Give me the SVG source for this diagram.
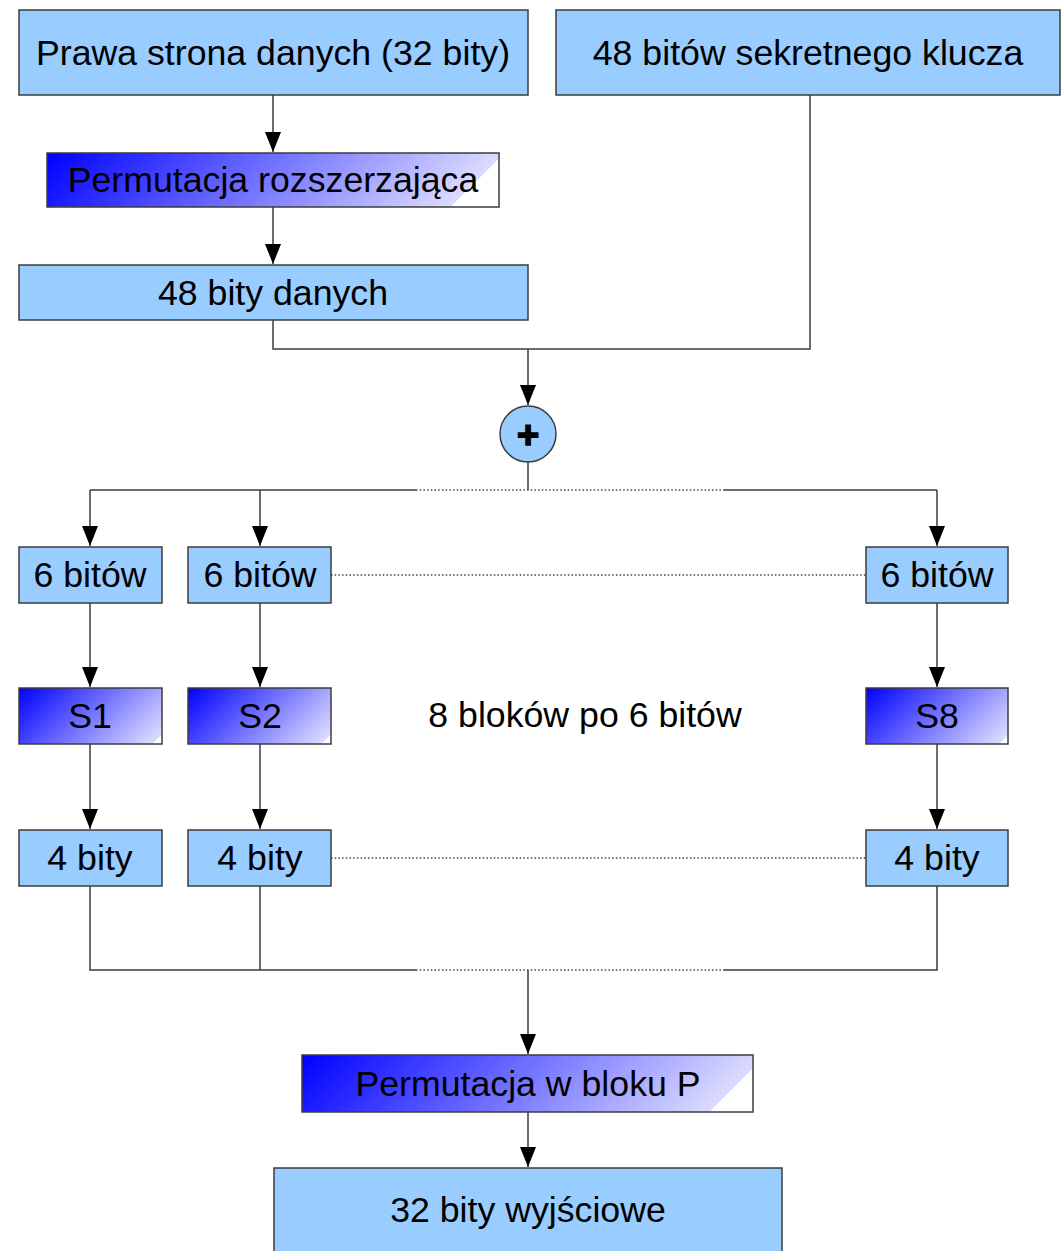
<svg xmlns="http://www.w3.org/2000/svg" width="1061" height="1251" viewBox="0 0 1061 1251">
  <style>
    .box { fill: #99ccff; stroke: #3c3c3c; stroke-width: 1.5; }
    .grad { stroke: #3c3c3c; stroke-width: 1.5; }
    .lbl { font-family: "Liberation Sans", Arial, sans-serif; font-size: 35.7px; fill: #000; text-anchor: middle; }
    .wire { fill: none; stroke: #3c3c3c; stroke-width: 1.5; }
    .arrow { fill: none; stroke: #3c3c3c; stroke-width: 1.5; marker-end: url(#head); }
    .dots { fill: none; stroke: #444; stroke-width: 1.3; stroke-dasharray: 1.5 2.2; }
  </style>
  <defs>
    <marker id="head" markerUnits="userSpaceOnUse" markerWidth="20" markerHeight="16" refX="20" refY="8" orient="auto">
      <path d="M0,0 L20,8 L0,16 z" fill="#000"/>
    </marker>
    <!-- diagonal blue-to-white fills, one per box size -->
    <linearGradient id="gPermE" gradientUnits="userSpaceOnUse" x1="47" y1="153" x2="300" y2="406">
      <stop offset="0" stop-color="#0000ff"/>
      <stop offset="0.905" stop-color="#dcdcff"/>
      <stop offset="0.905" stop-color="#ffffff"/>
      <stop offset="1" stop-color="#ffffff"/>
    </linearGradient>
    <linearGradient id="gS1" gradientUnits="userSpaceOnUse" x1="19" y1="688" x2="118" y2="787">
      <stop offset="0" stop-color="#0000ff"/>
      <stop offset="0.955" stop-color="#dcdcff"/>
      <stop offset="0.955" stop-color="#ffffff"/>
      <stop offset="1" stop-color="#ffffff"/>
    </linearGradient>
    <linearGradient id="gS2" href="#gS1" x1="188" y1="688" x2="287" y2="787"/>
    <linearGradient id="gS8" href="#gS1" x1="866" y1="688" x2="965" y2="787"/>
    <linearGradient id="gPermP" gradientUnits="userSpaceOnUse" x1="302" y1="1055" x2="556" y2="1309">
      <stop offset="0" stop-color="#0000ff"/>
      <stop offset="0.915" stop-color="#dcdcff"/>
      <stop offset="0.915" stop-color="#ffffff"/>
      <stop offset="1" stop-color="#ffffff"/>
    </linearGradient>
  </defs>

  <rect width="1061" height="1251" fill="#ffffff"/>

  <!-- connectors -->
  <g id="connectors">
    <path class="arrow" d="M273,95 V152"/>
    <path class="arrow" d="M273,207 V264"/>
    <path class="wire" d="M273,320 V349 H810 V95"/>
    <path class="arrow" d="M528,349 V405"/>
    <path class="wire" d="M528,462 V490"/>
    <path class="wire" d="M90,490 H416"/>
    <path class="dots" d="M416,490 H724"/>
    <path class="wire" d="M724,490 H937"/>
    <path class="arrow" d="M90,490 V546"/>
    <path class="arrow" d="M260,490 V546"/>
    <path class="arrow" d="M937,490 V546"/>
    <path class="dots" d="M331,575 H866"/>
    <path class="arrow" d="M90,603 V687"/>
    <path class="arrow" d="M260,603 V687"/>
    <path class="arrow" d="M937,603 V687"/>
    <path class="arrow" d="M90,744 V829"/>
    <path class="arrow" d="M260,744 V829"/>
    <path class="arrow" d="M937,744 V829"/>
    <path class="dots" d="M331,858 H866"/>
    <path class="wire" d="M90,886 V970 H416"/>
    <path class="wire" d="M260,886 V970"/>
    <path class="dots" d="M416,970 H724"/>
    <path class="wire" d="M724,970 H937 V886"/>
    <path class="arrow" d="M528,970 V1054"/>
    <path class="arrow" d="M528,1112 V1167"/>
  </g>

  <g id="right-half">
    <rect class="box" x="19" y="10" width="509" height="85"/>
    <text class="lbl" x="273" y="65">Prawa strona danych (32 bity)</text>
  </g>
  <g id="key">
    <rect class="box" x="556" y="10" width="504" height="85"/>
    <text class="lbl" x="808" y="65">48 bitów sekretnego klucza</text>
  </g>
  <g id="expansion">
    <rect class="grad" x="47" y="153" width="452" height="54" fill="url(#gPermE)"/>
    <text class="lbl" x="273" y="192">Permutacja rozszerzająca</text>
  </g>
  <g id="data48">
    <rect class="box" x="19" y="265" width="509" height="55"/>
    <text class="lbl" x="273" y="305">48 bity danych</text>
  </g>
  <g id="xor">
    <circle cx="528" cy="434" r="28" fill="#99ccff" stroke="#3c3c3c" stroke-width="1.5"/>
    <text x="528" y="448" font-family="Liberation Sans, Arial, sans-serif" font-size="38" font-weight="bold" text-anchor="middle" fill="#000" stroke="#000" stroke-width="1.6">+</text>
  </g>

  <g id="in1">
    <rect class="box" x="19" y="547" width="143" height="56"/>
    <text class="lbl" x="90" y="587">6 bitów</text>
  </g>
  <g id="in2">
    <rect class="box" x="188" y="547" width="143" height="56"/>
    <text class="lbl" x="260" y="587">6 bitów</text>
  </g>
  <g id="in8">
    <rect class="box" x="866" y="547" width="142" height="56"/>
    <text class="lbl" x="937" y="587">6 bitów</text>
  </g>

  <g id="s1">
    <rect class="grad" x="19" y="688" width="143" height="56" fill="url(#gS1)"/>
    <text class="lbl" x="90" y="728">S1</text>
  </g>
  <g id="s2">
    <rect class="grad" x="188" y="688" width="143" height="56" fill="url(#gS2)"/>
    <text class="lbl" x="260" y="728">S2</text>
  </g>
  <g id="s8">
    <rect class="grad" x="866" y="688" width="142" height="56" fill="url(#gS8)"/>
    <text class="lbl" x="937" y="728">S8</text>
  </g>
  <g id="note">
    <text class="lbl" x="585" y="727">8 bloków po 6 bitów</text>
  </g>

  <g id="out1">
    <rect class="box" x="19" y="830" width="143" height="56"/>
    <text class="lbl" x="90" y="870">4 bity</text>
  </g>
  <g id="out2">
    <rect class="box" x="188" y="830" width="143" height="56"/>
    <text class="lbl" x="260" y="870">4 bity</text>
  </g>
  <g id="out8">
    <rect class="box" x="866" y="830" width="142" height="56"/>
    <text class="lbl" x="937" y="870">4 bity</text>
  </g>

  <g id="pbox">
    <rect class="grad" x="302" y="1055" width="451" height="57" fill="url(#gPermP)"/>
    <text class="lbl" x="528" y="1096">Permutacja w bloku P</text>
  </g>
  <g id="result">
    <rect class="box" x="274" y="1168" width="508" height="100"/>
    <text class="lbl" x="528" y="1222">32 bity wyjściowe</text>
  </g>
</svg>
